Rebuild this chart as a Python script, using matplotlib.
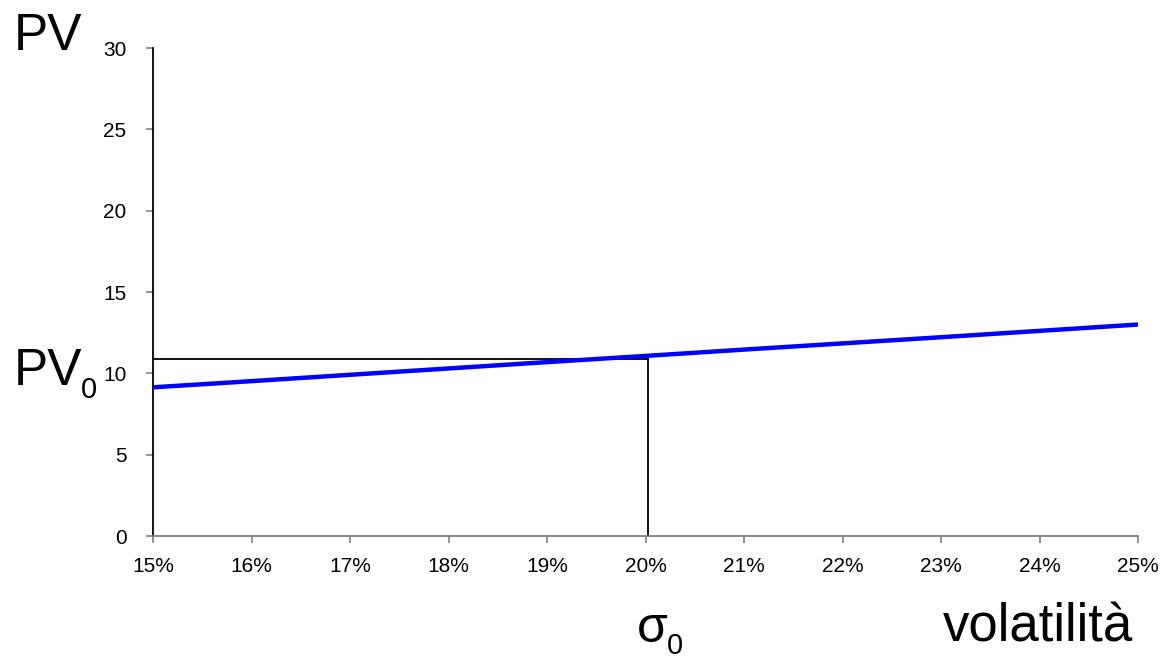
import matplotlib
matplotlib.use("Agg")
import matplotlib.pyplot as plt
from matplotlib.ticker import FuncFormatter

plt.rcParams['font.family'] = ['Liberation Sans', 'DejaVu Sans']

# data
volatility = [0.15, 0.16, 0.17, 0.18, 0.19, 0.20, 0.21, 0.22, 0.23, 0.24, 0.25]
pv_values = [9.14, 9.52, 9.91, 10.30, 10.69, 11.07, 11.46, 11.84, 12.22, 12.61, 13.00]
sigma0 = 0.2003
pv0 = 10.88
y_ticks = [0, 5, 10, 15, 20, 25, 30]

W, H = 1161, 659
fig = plt.figure(figsize=(W / 100, H / 100), dpi=100)
ax = fig.add_axes([153 / W, 1 - 536 / H, (1138 - 153) / W, (536 - 48) / H])

ax.plot(volatility, pv_values, color='#0000ff', lw=3.2, solid_capstyle='butt', zorder=3)
ax.plot([0.15, sigma0], [pv0, pv0], color='black', lw=1.3, zorder=2)
ax.plot([sigma0, sigma0], [0, pv0], color='black', lw=1.3, zorder=2)

ax.set_xlim(0.15, 0.25)
ax.set_ylim(0, 30)
ax.set_xticks(volatility)
ax.xaxis.set_major_formatter(FuncFormatter(lambda v, _: f"{v * 100:.0f}%"))
ax.set_yticks(y_ticks)

for s in ('top', 'right'):
    ax.spines[s].set_visible(False)
ax.spines['left'].set_color('black')
ax.spines['left'].set_linewidth(1.3)
ax.spines['bottom'].set_color('#808080')
ax.spines['bottom'].set_linewidth(1.3)
ax.tick_params(axis='both', direction='out', length=5, width=1.2, color='#808080',
               labelsize=15, labelcolor='black')
ax.tick_params(axis='x', pad=10)
ax.tick_params(axis='y', pad=14)


def px_text(x, y, s, size, **kw):
    fig.text(x / W, 1 - y / H, s, fontsize=size, **kw)


# axis names and the PV0 / sigma0 markers
px_text(14, 50, "PV", 37, ha='left', va='baseline')
px_text(14, 385, "PV", 37, ha='left', va='baseline')
px_text(81, 398, "0", 21, ha='left', va='baseline')
px_text(637, 642, "σ", 36, ha='left', va='baseline')
px_text(667, 654, "0", 21, ha='left', va='baseline')
px_text(1133, 641, "volatilità", 38, ha='right', va='baseline')

fig.savefig("out.png", dpi=100)
